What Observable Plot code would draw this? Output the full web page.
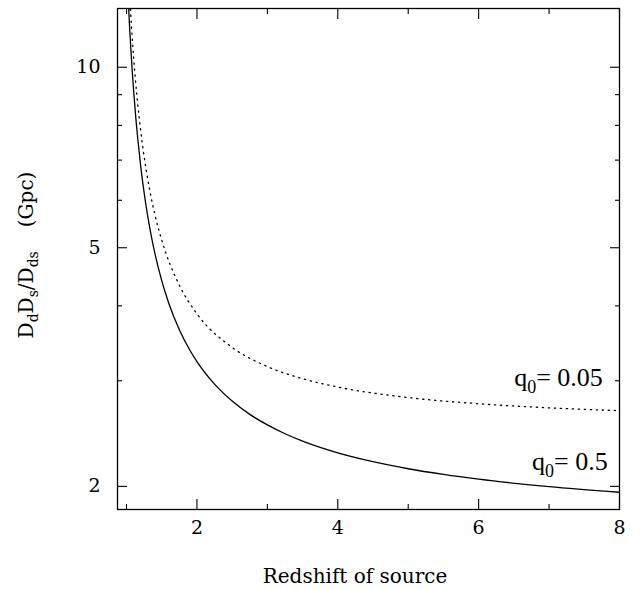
<!DOCTYPE html>
<html><head><meta charset="utf-8">
<script src="https://cdn.jsdelivr.net/npm/d3@7"></script>
<script src="https://cdn.jsdelivr.net/npm/@observablehq/plot@0.6"></script>
<style>body{margin:0;background:#fff} svg{display:block}</style>
</head><body><div id="chart"></div>
<script>
// q0 = 0.5 (solid line): source redshift, Dd*Ds/Dds in Gpc
const zSolid = [1.0, 1.02, 1.04, 1.06, 1.08, 1.1, 1.13, 1.16, 1.2, 1.25, 1.3, 1.35, 1.4, 1.5, 1.6, 1.75, 1.9, 2.0, 2.25, 2.5, 2.75, 3.0, 3.25, 3.5, 3.75, 4.0, 4.5, 5.0, 5.5, 6.0, 7.0, 8.0];
const dSolid = [15.3, 13.4, 11.9, 10.8, 9.91, 9.17, 8.28, 7.59, 6.86, 6.18, 5.655, 5.244, 4.911, 4.406, 4.041, 3.65, 3.373, 3.229, 2.961, 2.775, 2.637, 2.532, 2.448, 2.38, 2.323, 2.275, 2.199, 2.14, 2.094, 2.056, 1.998, 1.955];
// q0 = 0.05 (dotted line)
const zDot = [1.0, 1.03, 1.06, 1.1, 1.15, 1.2, 1.3, 1.4, 1.5, 1.75, 2.0, 2.5, 3.0, 3.5, 4.0, 5.0, 6.0, 7.0, 8.0];
const dDot = [17.26, 14.25, 12.24, 10.42, 8.9, 7.86, 6.52, 5.7, 5.15, 4.33, 3.88, 3.41, 3.168, 3.024, 2.929, 2.813, 2.747, 2.704, 2.675];

const xMajor = [2, 4, 6, 8];
const xMinor = [1, 3, 5, 7];
const yMajor = [2, 5, 10];
const yMinor = [3, 4, 6, 7, 8, 9];
const xDomain = [0.872, 8];
const yDomain = [1.83, 12.53];

const labels = [
  {base: "q", sub: "0", rest: "= 0.05", z: 7.77, d: 2.93},
  {base: "q", sub: "0", rest: "= 0.5", z: 7.84, d: 2.124}
];

const solid = zSolid.map((z, i) => ({z, d: dSolid[i]}));
const dotted = zDot.map((z, i) => ({z, d: dDot[i]}));

const tickFont = "DejaVu Serif";
const noText = () => "";

const chart = Plot.plot({
  width: 642,
  height: 589,
  marginLeft: 117,
  marginRight: 23,
  marginTop: 8,
  marginBottom: 80,
  style: {fontFamily: tickFont, background: "#fff", color: "#000"},
  x: {domain: xDomain},
  y: {type: "log", domain: yDomain},
  marks: [
    Plot.frame({stroke: "#000", strokeWidth: 1.3}),
    Plot.axisX(xMajor, {anchor: "bottom", tickSize: -10, tickFormat: noText, label: null, strokeWidth: 1.1}),
    Plot.axisX(xMinor, {anchor: "bottom", tickSize: -5, tickFormat: noText, label: null, strokeWidth: 1.1}),
    Plot.axisX(xMajor, {anchor: "top", tickSize: -10, tickFormat: noText, label: null, strokeWidth: 1.1}),
    Plot.axisX(xMinor, {anchor: "top", tickSize: -5, tickFormat: noText, label: null, strokeWidth: 1.1}),
    Plot.axisY(yMajor, {anchor: "left", tickSize: -10, tickFormat: noText, label: null, strokeWidth: 1.1}),
    Plot.axisY(yMinor, {anchor: "left", tickSize: -5, tickFormat: noText, label: null, strokeWidth: 1.1}),
    Plot.axisY(yMajor, {anchor: "right", tickSize: -10, tickFormat: noText, label: null, strokeWidth: 1.1}),
    Plot.axisY(yMinor, {anchor: "right", tickSize: -5, tickFormat: noText, label: null, strokeWidth: 1.1}),
    Plot.axisX(xMajor, {anchor: "bottom", tickSize: 0, tickPadding: 11, label: null, fontSize: 19, tickFormat: d => String(d)}),
    Plot.axisY(yMajor, {anchor: "left", tickSize: 0, tickPadding: 17, label: null, fontSize: 19, tickFormat: d => String(d)}),
    Plot.line(solid, {x: "z", y: "d", curve: "monotone-x", stroke: "#000", strokeWidth: 1.3, clip: true}),
    Plot.line(dotted, {x: "z", y: "d", curve: "monotone-x", stroke: "#000", strokeWidth: 1.3, strokeDasharray: "1.3,4.7", clip: true})
  ]
});

const svg = d3.select(chart);
const sx = chart.scale("x"), sy = chart.scale("y");

// curve labels
for (const l of labels) {
  const t = svg.append("text")
    .attr("x", sx.apply(l.z)).attr("y", sy.apply(l.d))
    .attr("text-anchor", "end")
    .attr("font-family", "Liberation Serif")
    .attr("font-size", 26)
    .attr("fill", "#000");
  t.append("tspan").text(l.base);
  t.append("tspan").attr("font-size", 18).attr("dy", 7).text(l.sub);
  t.append("tspan").attr("dy", -7).text(l.rest);
}

// x axis title
svg.append("text")
  .attr("x", 355).attr("y", 583)
  .attr("text-anchor", "middle")
  .attr("font-family", tickFont)
  .attr("font-size", 20)
  .attr("fill", "#000")
  .text("Redshift of source");

// y axis title
const yt = svg.append("text")
  .attr("transform", "translate(33,255) rotate(-90)")
  .attr("text-anchor", "middle")
  .attr("font-family", tickFont)
  .attr("font-size", 20)
  .attr("fill", "#000");
yt.append("tspan").text("D");
yt.append("tspan").attr("font-size", 14).attr("dy", 5).text("d");
yt.append("tspan").attr("dy", -5).text("D");
yt.append("tspan").attr("font-size", 14).attr("dy", 5).text("s");
yt.append("tspan").attr("dy", -5).text("/D");
yt.append("tspan").attr("font-size", 14).attr("dy", 5).text("ds");
yt.append("tspan").attr("dy", -5).attr("dx", 24).text("(Gpc)");

document.getElementById("chart").appendChild(chart);
</script>
</body></html>
